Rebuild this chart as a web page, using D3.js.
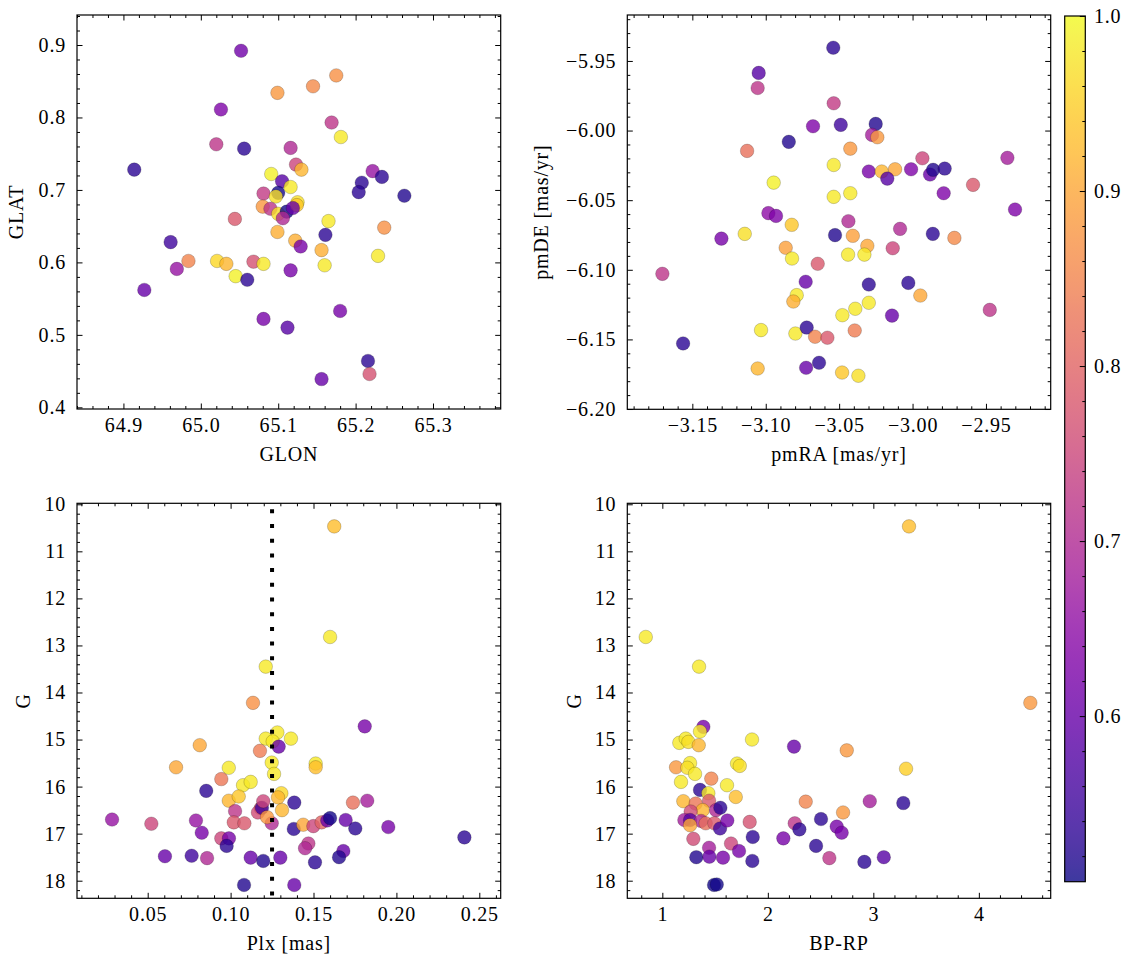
<!DOCTYPE html>
<html><head><meta charset="utf-8">
<script src="https://cdn.jsdelivr.net/npm/d3@7"></script>
<style>
body{margin:0;background:#fff;}
text{font-family:"Liberation Serif","Times New Roman",serif;}
</style></head>
<body>
<svg id="fig" width="1133" height="965"></svg>
<script>
// ---- data: [x, y, membership probability] ----
const skyStars = [ // GLON, GLAT, prob
[65.052,0.892,0.61],[65.099,0.834,0.88],[65.026,0.811,0.63],[65.020,0.763,0.72],[65.056,0.757,0.53],
[64.914,0.728,0.53],[65.091,0.722,0.99],[65.105,0.712,0.58],[65.081,0.695,0.73],[65.100,0.696,0.51],
[65.097,0.691,0.97],[65.080,0.677,0.88],[65.090,0.674,0.72],[65.100,0.667,0.97],[65.111,0.670,0.51],
[65.106,0.661,0.70],[65.044,0.660,0.78],[65.099,0.642,0.91],[64.961,0.628,0.55],[64.984,0.602,0.85],
[65.021,0.602,0.96],[65.033,0.598,0.92],[65.068,0.601,0.77],[65.081,0.598,0.98],[64.969,0.591,0.66],
[65.045,0.581,0.99],[65.060,0.576,0.53],[64.927,0.562,0.60],[65.081,0.522,0.62],[65.112,0.510,0.58],
[65.175,0.858,0.87],[65.145,0.843,0.86],[65.169,0.793,0.72],[65.181,0.773,0.98],[65.116,0.758,0.70],
[65.123,0.735,0.75],[65.130,0.728,0.92],[65.116,0.704,0.98],[65.222,0.726,0.66],[65.234,0.718,0.53],
[65.208,0.710,0.53],[65.204,0.697,0.53],[65.263,0.692,0.52],[65.125,0.683,0.97],[65.124,0.679,0.94],
[65.119,0.675,0.60],[65.165,0.657,0.98],[65.237,0.648,0.87],[65.161,0.638,0.53],[65.122,0.630,0.91],
[65.129,0.622,0.62],[65.156,0.617,0.91],[65.160,0.596,0.98],[65.229,0.609,0.98],[65.116,0.589,0.62],
[65.180,0.533,0.62],[65.216,0.464,0.53],[65.218,0.446,0.77],[65.156,0.439,0.60]
];
const pmStars = [ // pmRA, pmDE, prob
[-3.1048,-5.9586,0.58],[-3.1055,-5.9694,0.72],[-3.0843,-6.0081,0.52],[-3.1127,-6.0146,0.82],[-3.0946,-6.0374,0.99],
[-3.0982,-6.0593,0.65],[-3.0930,-6.0613,0.63],[-3.0823,-6.0677,0.94],[-3.1143,-6.0742,0.97],[-3.1302,-6.0776,0.62],
[-3.0864,-6.0842,0.89],[-3.0821,-6.0919,0.98],[-3.1704,-6.1029,0.72],[-3.0728,-6.1086,0.60],[-3.0789,-6.1182,0.98],
[-3.0812,-6.1228,0.91],[-3.1032,-6.1433,0.98],[-3.0798,-6.1458,0.98],[-3.0721,-6.1415,0.53],[-3.1563,-6.1529,0.53],
[-3.1055,-6.1709,0.92],[-3.0725,-6.1704,0.60],[-3.0540,-5.9405,0.53],[-3.0537,-5.9804,0.73],[-3.0678,-5.9969,0.63],
[-3.0489,-5.9959,0.55],[-3.0251,-5.9952,0.52],[-3.0276,-6.0031,0.68],[-3.0240,-6.0048,0.88],[-3.0424,-6.0130,0.88],
[-3.0537,-6.0247,0.98],[-3.0298,-6.0294,0.62],[-3.0210,-6.0294,0.92],[-3.0119,-6.0278,0.90],[-3.0172,-6.0345,0.58],
[-3.0010,-6.0278,0.63],[-2.9933,-6.0199,0.75],[-2.9881,-6.0316,0.60],[-2.9860,-6.0282,0.52],[-2.9781,-6.0273,0.53],
[-2.9788,-6.0450,0.63],[-2.9588,-6.0390,0.78],[-2.9354,-6.0196,0.68],[-2.9302,-6.0567,0.63],[-3.0537,-6.0476,0.98],
[-3.0424,-6.0450,0.98],[-3.0437,-6.0651,0.70],[-3.0085,-6.0706,0.70],[-3.0528,-6.0751,0.52],[-3.0407,-6.0756,0.89],
[-2.9862,-6.0742,0.53],[-2.9715,-6.0771,0.86],[-3.0308,-6.0828,0.90],[-3.0135,-6.0845,0.75],[-3.0439,-6.0891,0.98],
[-3.0328,-6.0891,0.98],[-3.0646,-6.0957,0.78],[-3.0298,-6.1106,0.53],[-3.0029,-6.1094,0.53],[-2.9947,-6.1185,0.90],
[-3.0298,-6.1237,0.98],[-3.0390,-6.1280,0.98],[-3.0478,-6.1326,0.98],[-3.0140,-6.1329,0.60],[-2.9474,-6.1288,0.72],
[-3.0664,-6.1481,0.85],[-3.0580,-6.1488,0.78],[-3.0394,-6.1436,0.84],[-3.0637,-6.1668,0.53],[-3.0480,-6.1738,0.94],
[-3.0369,-6.1761,0.97]
];
const plxStars = [ // Plx, G, prob
[0.1212,13.45,0.98],[0.1135,14.22,0.87],[0.0814,15.12,0.90],[0.0671,15.59,0.90],[0.0989,15.60,0.98],
[0.0944,15.84,0.83],[0.1075,15.97,0.98],[0.1121,15.90,0.98],[0.0853,16.09,0.53],[0.0989,16.30,0.92],
[0.1049,16.21,0.94],[0.1027,16.52,0.72],[0.1182,16.46,0.78],[0.1165,16.55,0.76],[0.1189,16.45,0.55],
[0.1019,16.76,0.78],[0.1083,16.78,0.78],[0.1248,16.78,0.70],[0.0285,16.70,0.66],[0.0522,16.79,0.75],
[0.0791,16.72,0.66],[0.0826,16.98,0.62],[0.0944,17.10,0.75],[0.0990,17.10,0.62],[0.0976,17.26,0.53],
[0.0604,17.48,0.60],[0.0765,17.47,0.55],[0.0858,17.52,0.70],[0.1121,17.51,0.60],[0.1197,17.58,0.52],
[0.1300,17.51,0.60],[0.1081,18.09,0.52],[0.1282,14.85,0.98],[0.1212,14.98,0.98],[0.1254,15.04,0.98],
[0.1177,15.24,0.84],[0.1290,15.15,0.60],[0.1248,15.49,0.98],[0.1262,15.73,0.98],[0.1306,16.14,0.96],
[0.1286,16.23,0.92],[0.1310,16.50,0.92],[0.1197,16.31,0.75],[0.1220,16.65,0.88],[0.1625,10.47,0.93],
[0.1600,12.82,0.98],[0.1809,14.72,0.62],[0.1364,14.98,0.98],[0.1513,15.51,0.98],[0.1513,15.59,0.93],
[0.1384,16.34,0.53],[0.1738,16.34,0.82],[0.1824,16.30,0.68],[0.1381,16.90,0.53],[0.1438,16.81,0.90],
[0.1499,16.84,0.75],[0.1549,16.76,0.80],[0.1583,16.72,0.60],[0.1600,16.67,0.51],[0.1694,16.71,0.60],
[0.1752,16.89,0.53],[0.1951,16.86,0.62],[0.2410,17.08,0.53],[0.1469,17.21,0.72],[0.1449,17.31,0.70],
[0.1680,17.37,0.60],[0.1654,17.50,0.52],[0.1509,17.61,0.53],[0.1384,18.09,0.60]
];
const cmdStars = [ // BP-RP, G, prob
[0.843,12.82,0.98],[1.348,13.45,0.98],[1.389,14.73,0.62],[1.357,14.83,0.98],[1.161,15.07,0.98],
[1.222,14.98,0.98],[1.247,15.05,0.97],[1.345,15.12,0.92],[1.850,15.00,0.98],[2.248,15.15,0.60],
[1.130,15.59,0.88],[1.263,15.50,0.98],[1.237,15.60,0.97],[1.310,15.73,0.98],[1.708,15.51,0.98],
[1.734,15.56,0.97],[1.177,15.90,0.98],[1.464,15.83,0.85],[1.613,15.97,0.98],[1.696,16.22,0.93],
[1.357,16.07,0.53],[1.436,16.14,0.98],[1.199,16.31,0.92],[1.316,16.36,0.83],[1.443,16.30,0.78],
[1.383,16.50,0.92],[1.509,16.50,0.70],[1.550,16.45,0.53],[1.269,16.53,0.76],[1.209,16.71,0.68],
[1.263,16.71,0.58],[1.367,16.73,0.70],[1.263,16.82,0.90],[1.411,16.78,0.82],[1.493,16.78,0.78],
[1.547,16.89,0.55],[1.616,16.72,0.62],[1.828,16.75,0.77],[1.294,17.11,0.76],[1.651,17.21,0.75],
[1.727,17.37,0.62],[1.857,17.07,0.53],[2.147,17.10,0.62],[2.255,16.78,0.72],[2.299,16.91,0.53],
[1.322,17.50,0.52],[1.443,17.30,0.68],[1.446,17.49,0.60],[1.575,17.51,0.62],[1.853,17.58,0.53],
[1.490,18.09,0.51],[1.516,18.08,0.51],[3.338,10.47,0.93],[4.488,14.22,0.88],[2.748,15.23,0.88],
[3.310,15.62,0.95],[2.359,16.32,0.85],[2.966,16.31,0.68],[3.284,16.35,0.53],[2.713,16.55,0.88],
[2.504,16.69,0.53],[2.653,16.85,0.62],[2.700,16.98,0.62],[2.457,17.26,0.53],[2.583,17.52,0.72],
[2.915,17.60,0.53],[3.099,17.50,0.58]
];
const plxReference = 0.125;
const probRange = [0.5054, 1.0];
// tick labels
const glonTicks = [64.9, 65.0, 65.1, 65.2, 65.3];
const glatTicks = [0.4, 0.5, 0.6, 0.7, 0.8, 0.9];
const pmraTicks = [-3.15, -3.10, -3.05, -3.00, -2.95];
const pmdeTicks = [-6.20, -6.15, -6.10, -6.05, -6.00, -5.95];
const plxTicks = [0.05, 0.10, 0.15, 0.20, 0.25];
const gTicks = [10, 11, 12, 13, 14, 15, 16, 17, 18];
const bprpTicks = [1, 2, 3, 4];
const probTicks = [0.6, 0.7, 0.8, 0.9, 1.0];

// ---- drawing ----
const svg = d3.select("#fig");
const FS = 20;
const color = d3.scaleSequential(d3.interpolatePlasma).domain(probRange).clamp(true);

function minorVals(dom, step, majors){
  const lo = Math.min(dom[0], dom[1]), hi = Math.max(dom[0], dom[1]);
  const out = [];
  for (let k = Math.ceil(lo/step - 1e-9); k <= Math.floor(hi/step + 1e-9); k++){
    const v = k*step;
    if (!majors.some(m => Math.abs(m - v) < step*0.01)) out.push(v);
  }
  return out;
}

function panel(c){
  const g = svg.append("g");
  const x = d3.scaleLinear().domain(c.xDom).range([c.x0, c.x1]);
  const y = d3.scaleLinear().domain(c.yDom).range([c.y1, c.y0]);
  const W = c.x1 - c.x0, H = c.y1 - c.y0;

  // points
  g.append("g").selectAll("circle").data(c.data).join("circle")
    .attr("cx", d => x(d[0])).attr("cy", d => y(d[1])).attr("r", 6.8)
    .attr("fill", d => color(d[2])).attr("fill-opacity", 0.8)
    .attr("stroke", "#000").attr("stroke-opacity", 0.55).attr("stroke-width", 0.35);

  if (c.vline !== undefined){
    g.append("line").attr("x1", x(c.vline)).attr("x2", x(c.vline))
      .attr("y1", c.y0 + 6).attr("y2", c.y1)
      .attr("stroke", "#000").attr("stroke-width", 4).attr("stroke-dasharray", "4,10.7");
  }

  const xMin = minorVals(c.xDom, c.xMinor, c.xTicks);
  const yMin = minorVals(c.yDom, c.yMinor, c.yTicks);
  const MJ = 5.5, MN = 3;
  function ax(gen, tx, ty, vals, size, fmt, pad){
    const a = gen.tickValues(vals).tickSize(-size).tickPadding(pad || 0).tickFormat(fmt || "");
    const s = g.append("g").attr("transform", `translate(${tx},${ty})`).call(a);
    s.select(".domain").remove();
    s.selectAll("line").attr("stroke", "#000").attr("stroke-width", 1);
    s.selectAll("text").attr("font-size", FS).attr("font-family", "Liberation Serif, serif")
      .attr("fill", "#000").attr("letter-spacing", "0.8px");
    return s;
  }
  ax(d3.axisBottom(x), 0, c.y1, c.xTicks, MJ, c.xFmt, 8.8);
  ax(d3.axisBottom(x), 0, c.y1, xMin, MN);
  ax(d3.axisTop(x), 0, c.y0, c.xTicks, MJ);
  ax(d3.axisTop(x), 0, c.y0, xMin, MN);
  ax(d3.axisLeft(y), c.x0, 0, c.yTicks, MJ, c.yFmt, 11);
  ax(d3.axisLeft(y), c.x0, 0, yMin, MN);
  ax(d3.axisRight(y), c.x1, 0, c.yTicks, MJ);
  ax(d3.axisRight(y), c.x1, 0, yMin, MN);

  g.append("rect").attr("x", c.x0).attr("y", c.y0).attr("width", W).attr("height", H)
    .attr("fill", "none").attr("stroke", "#000").attr("stroke-width", 1.2);

  g.append("text").attr("x", (c.x0 + c.x1)/2).attr("y", c.y1 + 52)
    .attr("text-anchor", "middle").attr("font-size", FS).attr("letter-spacing", "0.8px").text(c.xLabel);
  g.append("text").attr("transform", `translate(${c.yLabelX},${(c.y0 + c.y1)/2}) rotate(-90)`)
    .attr("text-anchor", "middle").attr("dy", "0.35em").attr("font-size", FS).attr("letter-spacing", "0.8px").text(c.yLabel);
}

const f1 = d3.format(".1f"), f2 = d3.format(".2f"), fd = d3.format("d");

panel({x0:77, x1:500.7, y0:15, y1:409, xDom:[64.840, 65.3875], yDom:[0.3977, 0.9414],
  xTicks:glonTicks, yTicks:glatTicks, xMinor:0.02, yMinor:0.02, xFmt:f1, yFmt:f1,
  xLabel:"GLON", yLabel:"GLAT", yLabelX:16, data:skyStars});
panel({x0:627.3, x1:1050.7, y0:15, y1:409.3, xDom:[-3.1943, -2.9059], yDom:[-6.2002, -5.917],
  xTicks:pmraTicks, yTicks:pmdeTicks, xMinor:0.01, yMinor:0.01, xFmt:f2, yFmt:f2,
  xLabel:"pmRA [mas/yr]", yLabel:"pmDE [mas/yr]", yLabelX:541, data:pmStars});
panel({x0:77, x1:500.7, y0:503.3, y1:898.3, xDom:[0.00736, 0.2629], yDom:[18.374, 9.979],
  xTicks:plxTicks, yTicks:gTicks, xMinor:0.01, yMinor:0.2, xFmt:f2, yFmt:fd,
  xLabel:"Plx [mas]", yLabel:"G", yLabelX:23, data:plxStars, vline:plxReference});
panel({x0:627.3, x1:1050.7, y0:503.3, y1:898.3, xDom:[0.668, 4.681], yDom:[18.374, 9.979],
  xTicks:bprpTicks, yTicks:gTicks, xMinor:0.2, yMinor:0.2, xFmt:fd, yFmt:fd,
  xLabel:"BP-RP", yLabel:"G", yLabelX:574, data:cmdStars});

// ---- colorbar ----
const cb = {x0:1064.7, x1:1085.3, y0:16, y1:881.7};
const cy = d3.scaleLinear().domain(probRange).range([cb.y1, cb.y0]);
const defs = svg.append("defs");
const grad = defs.append("linearGradient").attr("id", "cbgrad")
  .attr("x1", 0).attr("y1", 1).attr("x2", 0).attr("y2", 0);
d3.range(0, 1.0001, 0.02).forEach(t => {
  grad.append("stop").attr("offset", t).attr("stop-color", d3.interpolatePlasma(t));
});
svg.append("rect").attr("x", cb.x0).attr("y", cb.y0).attr("width", cb.x1 - cb.x0).attr("height", cb.y1 - cb.y0)
  .attr("fill", "url(#cbgrad)").attr("fill-opacity", 0.8);
const cbMinor = minorVals(probRange, 0.02, probTicks);
const cba = svg.append("g").attr("transform", `translate(${cb.x1},0)`)
  .call(d3.axisRight(cy).tickValues(probTicks).tickSize(-5.5).tickPadding(8.7).tickFormat(f1));
cba.select(".domain").remove();
cba.selectAll("line").attr("stroke", "#000");
cba.selectAll("text").attr("font-size", FS).attr("font-family", "Liberation Serif, serif").attr("letter-spacing", "0.8px");
const cbm = svg.append("g").attr("transform", `translate(${cb.x1},0)`)
  .call(d3.axisRight(cy).tickValues(cbMinor).tickSize(-3).tickFormat(""));
cbm.select(".domain").remove();
cbm.selectAll("line").attr("stroke", "#000");
svg.append("rect").attr("x", cb.x0).attr("y", cb.y0).attr("width", cb.x1 - cb.x0).attr("height", cb.y1 - cb.y0)
  .attr("fill", "none").attr("stroke", "#000").attr("stroke-width", 1.2);
</script>
</body></html>
